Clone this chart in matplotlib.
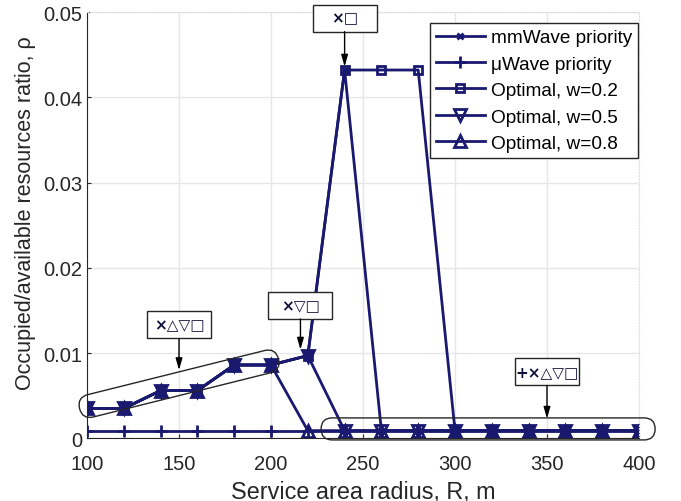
import matplotlib
matplotlib.use("Agg")
import matplotlib.pyplot as plt
from matplotlib.patches import FancyBboxPatch, Rectangle
from matplotlib.transforms import Affine2D, ScaledTranslation

plt.rcParams['font.family'] = ['Liberation Sans', 'DejaVu Sans']

# service area radius, m
radius = [100, 120, 140, 160, 180, 200, 220, 240, 260, 280, 300, 320, 340, 360, 380, 400]

mmwave = [0.0035, 0.0035, 0.0056, 0.0056, 0.0086, 0.0086, 0.0097, 0.0432,
          0.0009, 0.0009, 0.0009, 0.0009, 0.0009, 0.0009, 0.0009, 0.0009]
uwave = [0.0009, 0.0009, 0.0009, 0.0009, 0.0009, 0.0009, 0.0009, 0.0009,
         0.0009, 0.0009, 0.0009, 0.0009, 0.0009, 0.0009, 0.0009, 0.0009]
opt_w02 = [0.0035, 0.0035, 0.0056, 0.0056, 0.0086, 0.0086, 0.0097, 0.0432,
           0.0432, 0.0432, 0.0009, 0.0009, 0.0009, 0.0009, 0.0009, 0.0009]
opt_w05 = [0.0035, 0.0035, 0.0056, 0.0056, 0.0086, 0.0086, 0.0097, 0.0009,
           0.0009, 0.0009, 0.0009, 0.0009, 0.0009, 0.0009, 0.0009, 0.0009]
opt_w08 = [0.0035, 0.0035, 0.0056, 0.0056, 0.0086, 0.0086, 0.0009, 0.0009,
           0.0009, 0.0009, 0.0009, 0.0009, 0.0009, 0.0009, 0.0009, 0.0009]

yticks = [0, 0.01, 0.02, 0.03, 0.04, 0.05]
ytick_labels = ["0", "0.01", "0.02", "0.03", "0.04", "0.05"]

# annotation boxes: label, arrow x, box centre y, arrow tip y
notes = [("×□", 240, 0.0493, 0.0436),
         ("×▽□", 216, 0.0156, 0.0104),
         ("×△▽□", 150, 0.0133, 0.0080),
         ("+×△▽□", 350, 0.0078, 0.0023)]

navy = "#191970"
dark = "#262626"

fig = plt.figure(figsize=(6.81, 5.02), dpi=100)
ax = fig.add_axes([0.1278, 0.1249, 0.8105, 0.8491])

kw = dict(color=navy, lw=2, mew=2)
ax.plot(radius, mmwave, marker="x", ms=5, label="mmWave priority", **kw)
ax.plot(radius, uwave, marker="+", ms=9, label="μWave priority", **kw)
ax.plot(radius, opt_w02, marker="s", ms=5.5, mfc="none", label="Optimal, w=0.2", **kw)
ax.plot(radius, opt_w05, marker="v", ms=8, mfc="none", label="Optimal, w=0.5", **kw)
ax.plot(radius, opt_w08, marker="^", ms=8, mfc="none", label="Optimal, w=0.8", **kw)

ax.set_xlim(100, 400)
ax.set_ylim(0, 0.05)
ax.set_xticks([100, 150, 200, 250, 300, 350, 400])
ax.set_yticks(yticks)
ax.set_yticklabels(ytick_labels)
ax.tick_params(direction="in", length=3, labelsize=14.5, colors=dark)
ax.tick_params(axis="x", pad=11)
ax.grid(True, color="#e6e6e6", lw=1)
ax.set_axisbelow(True)
for s in ["top", "right"]:
    ax.spines[s].set_color("#e0e0e0")
    ax.spines[s].set_linestyle(":")
for s in ["left", "bottom"]:
    ax.spines[s].set_color(dark)

ax.set_xlabel("Service area radius, R, m", fontsize=16.8, color=dark, labelpad=5)
ax.set_ylabel("Occupied/available resources ratio, ρ", fontsize=15.5, color=dark)
ax.yaxis.set_label_coords(-0.092, 0.53)

leg = ax.legend(loc="upper right", bbox_to_anchor=(0.998, 0.974), borderaxespad=0,
                fontsize=13.7, fancybox=False, handlelength=2.6, labelspacing=0.48,
                handletextpad=0.3, borderpad=0.3)
leg.get_frame().set_edgecolor(dark)
leg.get_frame().set_linewidth(1)
leg.get_frame().set_alpha(1)


def at_data(x, y):
    return ScaledTranslation(x, y, ax.transData)


# rounded outlines around grouped points (sizes in pixels)
groups = [(150, 0.0064, 205, 23, 14), (318, 0.0011, 334, 22, 0)]
for gx, gy, L, H, ang in groups:
    p = FancyBboxPatch((-L / 2, -H / 2), L, H,
                       boxstyle="round,pad=0,rounding_size=%g" % (H / 2),
                       fc="none", ec=dark, lw=1,
                       transform=Affine2D().rotate_deg(ang) + at_data(gx, gy),
                       clip_on=False, zorder=6)
    ax.add_patch(p)

for label, nx, ny, tip in notes:
    box = Rectangle((-32, -13.5), 64, 27, fc="white", ec=dark, lw=1,
                    transform=at_data(nx, ny), clip_on=False, zorder=7)
    ax.add_patch(box)
    ax.text(nx, ny, label, ha="center", va="center", fontsize=11, fontweight="bold",
            color="#10103a", family="DejaVu Sans", zorder=8)
    ax.annotate("", xy=(nx, tip), xytext=(nx, ny - 0.0016),
                arrowprops=dict(arrowstyle="-|>,head_width=0.2,head_length=0.7",
                                color="black", lw=1, shrinkA=0, shrinkB=0), zorder=8)

fig.savefig("out.png", dpi=100)
